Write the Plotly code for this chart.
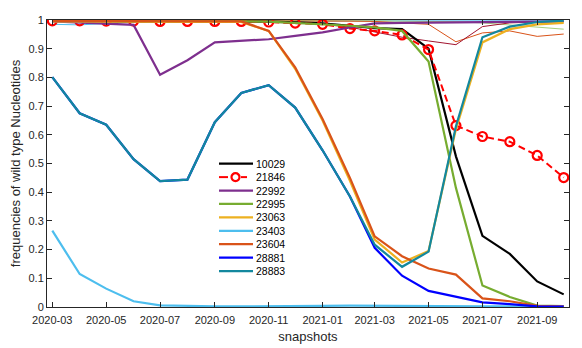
"""Wild type nucleotide frequencies across monthly snapshots."""
import plotly.graph_objects as go

snapshots = [
    "2020-03-01", "2020-04-01", "2020-05-01", "2020-06-01", "2020-07-01",
    "2020-08-01", "2020-09-01", "2020-10-01", "2020-11-01", "2020-12-01",
    "2021-01-01", "2021-02-01", "2021-03-01", "2021-04-01", "2021-05-01",
    "2021-06-01", "2021-07-01", "2021-08-01", "2021-09-01", "2021-10-01",
]
y_ticks = [0, 0.1, 0.2, 0.3, 0.4, 0.5, 0.6, 0.7, 0.8, 0.9, 1]
y_tick_text = ["0", "0.1", "0.2", "0.3", "0.4", "0.5", "0.6", "0.7", "0.8", "0.9", "1"]

# main sites (shown in legend)
f_10029 = [0.996, 0.996, 0.996, 0.995, 0.995, 0.995, 0.995, 0.995, 0.994, 0.992,
           0.988, 0.980, 0.972, 0.968, 0.900, 0.525, 0.248, 0.185, 0.089, 0.044]
f_21846 = [0.997, 0.997, 0.996, 0.996, 0.995, 0.995, 0.995, 0.995, 0.993, 0.989,
           0.985, 0.970, 0.962, 0.948, 0.897, 0.632, 0.594, 0.576, 0.528, 0.451]
f_22992 = [0.995, 0.991, 0.988, 0.983, 0.809, 0.860, 0.922, 0.928, 0.933, 0.945,
           0.957, 0.974, 0.988, 0.990, 0.991, 0.992, 0.993, 0.994, 0.995, 0.995]
f_22995 = [0.997, 0.997, 0.996, 0.996, 0.996, 0.996, 0.995, 0.995, 0.994, 0.990,
           0.985, 0.980, 0.974, 0.962, 0.855, 0.415, 0.075, 0.035, 0.005, 0.003]
f_23063 = [0.995, 0.995, 0.994, 0.994, 0.994, 0.993, 0.993, 0.993, 0.962, 0.830,
           0.650, 0.440, 0.235, 0.155, 0.195, 0.620, 0.922, 0.968, 0.985, 0.990]
f_23403 = [0.266, 0.115, 0.064, 0.020, 0.006, 0.003, 0.002, 0.002, 0.002, 0.003,
           0.004, 0.005, 0.004, 0.003, 0.002, 0.002, 0.002, 0.002, 0.002, 0.002]
f_23604 = [0.997, 0.997, 0.996, 0.996, 0.996, 0.995, 0.995, 0.995, 0.962, 0.835,
           0.655, 0.450, 0.246, 0.177, 0.134, 0.113, 0.030, 0.020, 0.004, 0.002]
f_28881 = [0.801, 0.675, 0.635, 0.515, 0.439, 0.444, 0.644, 0.746, 0.773, 0.695,
           0.546, 0.385, 0.206, 0.109, 0.056, 0.035, 0.016, 0.010, 0.002, 0.001]
f_28883 = [0.801, 0.675, 0.635, 0.515, 0.439, 0.444, 0.644, 0.746, 0.773, 0.695,
           0.546, 0.385, 0.217, 0.140, 0.193, 0.630, 0.940, 0.977, 0.993, 0.998]

# minor sites (thin, not in legend)
f_minor_orange = [0.998, 0.998, 0.998, 0.998, 0.998, 0.998, 0.998, 0.998, 0.998, 0.997,
                  0.997, 0.996, 0.995, 0.990, 0.985, 0.924, 0.955, 0.962, 0.943, 0.951]
f_minor_maroon = [0.997, 0.997, 0.997, 0.997, 0.997, 0.996, 0.996, 0.995, 0.994, 0.990,
                  0.985, 0.975, 0.958, 0.940, 0.927, 0.914, 0.977, 0.990, 0.993, 0.995]
f_minor_green = [0.999, 0.999, 0.999, 0.999, 0.999, 0.999, 0.999, 0.998, 0.998, 0.998,
                 0.998, 0.997, 0.997, 0.996, 0.995, 0.994, 0.990, 0.982, 0.975, 0.968]
f_minor_blue = [0.985, 0.983, 0.988, 0.993, 0.995, 0.996, 0.997, 0.997, 0.997, 0.997,
                0.997, 0.997, 0.997, 0.997, 0.997, 0.997, 0.997, 0.997, 0.997, 0.997]

minor = [
    (f_minor_blue, "#4DBEEE"),
    (f_minor_green, "#A6CF7A"),
    (f_minor_orange, "#D95319"),
    (f_minor_maroon, "#A2142F"),
]

main = [
    ("10029", f_10029, "#000000"),
    ("21846", f_21846, "#FF0000"),
    ("22992", f_22992, "#7E2F8E"),
    ("22995", f_22995, "#77AC30"),
    ("23063", f_23063, "#EDB120"),
    ("23403", f_23403, "#4DBEEE"),
    ("23604", f_23604, "#D95319"),
    ("28881", f_28881, "#0000FF"),
    ("28883", f_28883, "#13889E"),
]

FONT = "Liberation Sans, Arial, sans-serif"
AXIS = "#262626"
# page body has an 8px margin, so the figure is shrunk/offset to fit the window
OFF = 8
W, H = 582 - OFF, 348 - OFF
ML, MR, MT, MB = 47 - OFF, 13, 14 - OFF, 41
PW, PH = W - ML - MR, H - MT - MB

fig = go.Figure()
for vals, col in minor:
    fig.add_trace(go.Scatter(x=snapshots, y=vals, mode="lines", showlegend=False,
                             line=dict(color=col, width=1)))

for name, vals, col in main:
    if name == "21846":
        fig.add_trace(go.Scatter(
            x=snapshots, y=vals, mode="lines+markers", name=name, showlegend=False,
            line=dict(color=col, width=2, dash="7px,4px"),
            marker=dict(symbol="circle-open", size=9, color=col, line=dict(width=2.2)),
        ))
    else:
        fig.add_trace(go.Scatter(x=snapshots, y=vals, mode="lines", name=name,
                                 showlegend=False, line=dict(color=col, width=2.2)))


# compact MATLAB-style legend (no box), placed by window pixel position
def px_x(px):
    return (px - OFF - ML) / PW


def px_y(py):
    return (H - MB - (py - OFF)) / PH


shapes, annotations = [], []
for i, (name, _, col) in enumerate(main):
    yc = 160.7 + i * 13.7
    if name == "21846":
        shapes.append(dict(type="line", xref="paper", yref="paper",
                           x0=px_x(219), x1=px_x(228), y0=px_y(yc), y1=px_y(yc),
                           line=dict(color=col, width=2)))
        shapes.append(dict(type="line", xref="paper", yref="paper",
                           x0=px_x(241), x1=px_x(247), y0=px_y(yc), y1=px_y(yc),
                           line=dict(color=col, width=2)))
        shapes.append(dict(type="circle", xref="paper", yref="paper",
                           x0=px_x(231.5), x1=px_x(239.5), y0=px_y(yc + 4), y1=px_y(yc - 4),
                           line=dict(color=col, width=2.2)))
    else:
        shapes.append(dict(type="line", xref="paper", yref="paper",
                           x0=px_x(219), x1=px_x(253), y0=px_y(yc), y1=px_y(yc),
                           line=dict(color=col, width=2.2)))
    annotations.append(dict(text=name, xref="paper", yref="paper",
                            x=px_x(254), y=px_y(yc), xanchor="left", yanchor="middle",
                            showarrow=False, font=dict(size=10.5, color="#000000")))

fig.update_layout(
    width=W, height=H,
    margin=dict(l=ML, r=MR, t=MT, b=MB),
    paper_bgcolor="white", plot_bgcolor="white",
    font=dict(family=FONT, size=11, color=AXIS),
    showlegend=False,
    shapes=shapes, annotations=annotations,
    xaxis=dict(
        range=["2020-02-24", "2021-10-07"],
        tickformat="%Y-%m", dtick="M2", tick0="2020-03-01",
        ticks="inside", ticklen=5, tickcolor=AXIS, ticklabelstandoff=3,
        ticklabeloverflow="allow",
        showline=True, linecolor=AXIS, linewidth=1, mirror="ticks",
        showgrid=False, zeroline=False,
        title=dict(text="snapshots", standoff=6),
    ),
    yaxis=dict(
        range=[0, 1], tickmode="array", tickvals=y_ticks, ticktext=y_tick_text,
        ticks="inside", ticklen=5, tickcolor=AXIS, ticklabeloverflow="allow",
        showline=True, linecolor=AXIS, linewidth=1, mirror="ticks",
        showgrid=False, zeroline=False,
        title=dict(text="frequencies of wild type Nucleotides", standoff=5),
    ),
)

fig.write_html("out.html")
